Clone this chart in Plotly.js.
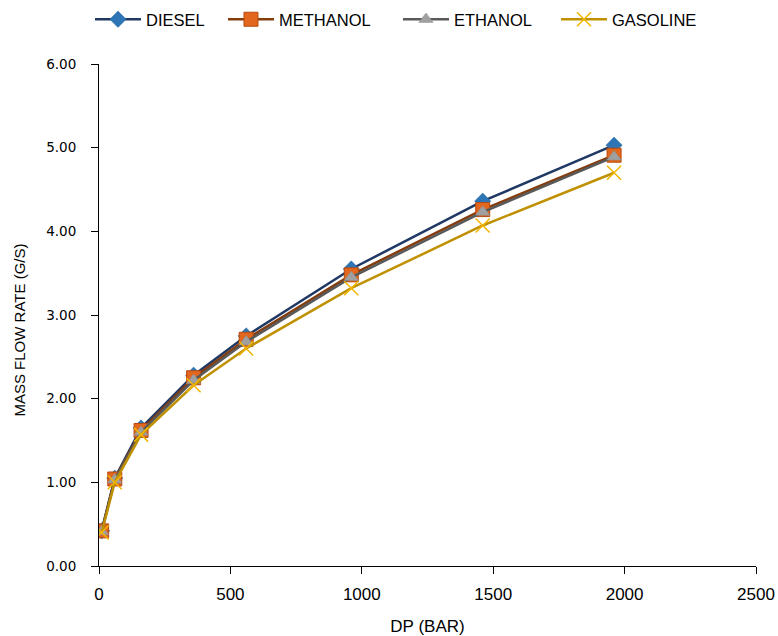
<!DOCTYPE html>
<html>
<head>
<meta charset="utf-8">
<script src="https://cdn.plot.ly/plotly-3.0.1.min.js"></script>
<style>html,body{margin:0;padding:0;background:#fff}#chart{width:778px;height:636px}</style>
</head>
<body>
<div id="chart"></div>
<script>
var dp = [10, 60, 160, 360, 560, 960, 1460, 1960];
var diesel = [0.42, 1.05, 1.65, 2.28, 2.75, 3.55, 4.36, 5.03];
var methanol = [0.42, 1.04, 1.62, 2.25, 2.71, 3.48, 4.26, 4.91];
var ethanol = [0.41, 1.03, 1.60, 2.22, 2.68, 3.45, 4.23, 4.89];
var gasoline = [0.40, 1.00, 1.57, 2.16, 2.60, 3.32, 4.07, 4.70];
var names = ['DIESEL', 'METHANOL', 'ETHANOL', 'GASOLINE'];
var xTicks = [0, 500, 1000, 1500, 2000, 2500];
var yTicks = [0, 1, 2, 3, 4, 5, 6];
var yTickText = ['0.00', '1.00', '2.00', '3.00', '4.00', '5.00', '6.00'];

var traces = [
  {x: dp, y: diesel, name: names[0], mode: 'lines+markers', legend: 'legend',
   line: {color: '#1F3864', width: 2.5},
   marker: {symbol: 'diamond', size: 12.5, color: '#2E75B6', line: {color: '#2566A0', width: 0.5}}},
  {x: dp, y: methanol, name: names[1], mode: 'lines+markers', legend: 'legend2',
   line: {color: '#843C0C', width: 2.5},
   marker: {symbol: 'square', size: 14, color: '#E2661E', line: {color: '#B84A0E', width: 1}}},
  {x: dp, y: ethanol, name: names[2], mode: 'lines+markers', legend: 'legend3',
   line: {color: '#595959', width: 2.5},
   marker: {symbol: 'triangle-up', size: 12.5, color: '#A0A0A0', line: {color: '#8C8C8C', width: 0.5}}},
  {x: dp, y: gasoline, name: names[3], mode: 'lines+markers', legend: 'legend4',
   line: {color: '#BF9000', width: 2.5},
   marker: {symbol: 'x-thin', size: 14, color: '#FFC000', line: {color: '#F2B600', width: 1.5}}}
];

var fnt = 'Liberation Sans, Arial, sans-serif';
function leg(x) {
  return {orientation: 'h', x: x, xanchor: 'left', y: 1.0886, yanchor: 'middle',
          font: {family: fnt, size: 16.5, color: '#000'}, itemwidth: 46,
          bgcolor: 'rgba(0,0,0,0)'};
}
var layout = {
  width: 778, height: 636,
  margin: {l: 99, r: 22, t: 64, b: 70, autoexpand: false},
  paper_bgcolor: '#fff', plot_bgcolor: '#fff',
  showlegend: true,
  legend: leg(-0.0137), legend2: leg(0.1887), legend3: leg(0.4551), legend4: leg(0.6956),
  xaxis: {range: [0, 2500], tickvals: xTicks,
          showgrid: false, zeroline: false, showline: true, linecolor: '#000', linewidth: 1,
          ticks: 'outside', ticklen: 7, tickcolor: '#000', ticklabelstandoff: 6,
          tickfont: {family: fnt, size: 17, color: '#000'},
          title: {text: 'DP (BAR)', font: {family: fnt, size: 17, color: '#000'}, standoff: 16}},
  yaxis: {range: [0, 6], tickvals: yTicks, ticktext: yTickText,
          showgrid: false, zeroline: false, showline: true, linecolor: '#000', linewidth: 1,
          ticks: 'outside', ticklen: 7, tickcolor: '#000', ticklabelstandoff: 12,
          tickfont: {family: 'DejaVu Sans, Verdana', size: 13.5, color: '#000'}},
  annotations: [{text: 'MASS FLOW RATE (G/S)', textangle: -90, showarrow: false,
                 xref: 'paper', yref: 'paper', x: -0.121, y: 0.47, xanchor: 'center', yanchor: 'middle',
                 font: {family: fnt, size: 15, color: '#000'}}]
};

Plotly.newPlot('chart', traces, layout, {displayModeBar: false, staticPlot: true});
</script>
</body>
</html>
